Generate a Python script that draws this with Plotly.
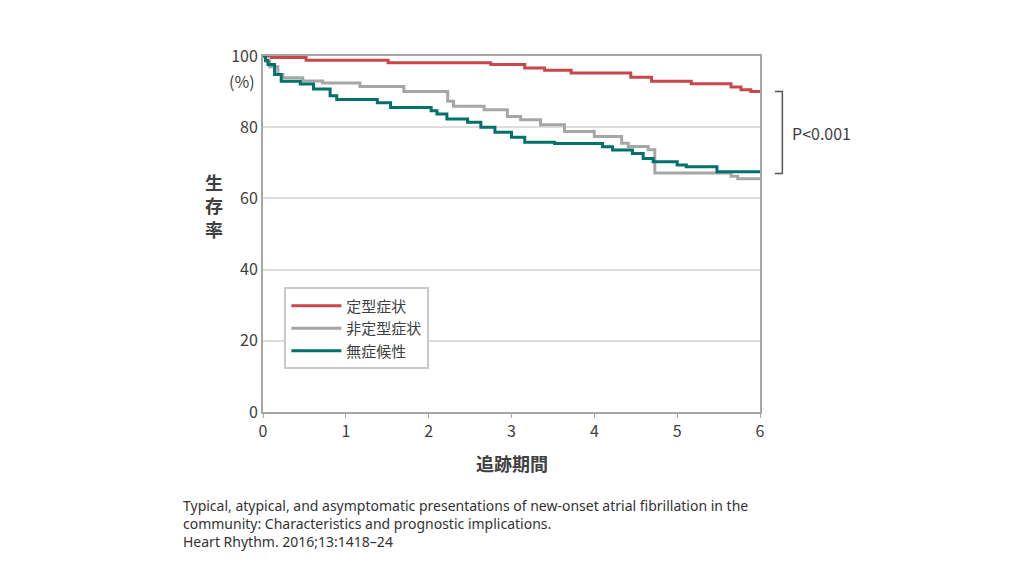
import plotly.graph_objects as go

# step points (years, survival %)
typ_x = [0, 0.1, 0.52, 1.51, 2.75, 3.16, 3.4, 3.72, 4.44, 4.69, 5.17, 5.65, 5.77, 5.89, 6]
typ_y = [100, 99.6, 98.8, 98.1, 97.6, 96.6, 96.0, 95.2, 94.0, 92.9, 92.2, 91.3, 90.5, 90.0, 90.0]

atyp_x = [0, 0.03, 0.08, 0.18, 0.24, 0.48, 0.72, 1.17, 1.7, 2.23, 2.3, 2.67, 2.95, 3.11, 3.35,
          3.64, 4.0, 4.33, 4.41, 4.65, 4.73, 5.65, 5.73, 6]
atyp_y = [100, 98.5, 97, 94.8, 93.9, 93.0, 92.4, 91.4, 90.0, 87.3, 85.9, 84.9, 83.0, 82.1, 80.7,
          78.8, 77.4, 75.5, 74.6, 73.7, 67.1, 66.2, 65.5, 65.5]

asym_x = [0, 0.03, 0.06, 0.14, 0.22, 0.45, 0.61, 0.81, 0.89, 1.38, 1.54, 2.03, 2.1, 2.22, 2.47,
          2.63, 2.8, 3.0, 3.16, 3.52, 4.1, 4.22, 4.46, 4.59, 4.71, 5.0, 5.11, 5.48, 6]
asym_y = [100, 98.8, 97.6, 94.8, 92.9, 92.1, 90.7, 88.8, 87.8, 86.9, 85.5, 84.6, 83.7, 82.3, 81.4,
          80.0, 78.6, 77.2, 75.8, 75.4, 74.5, 73.6, 72.6, 71.2, 70.3, 69.4, 68.9, 67.5, 67.5]

names = ["定型症状", "非定型症状", "無症候性"]
colors = ["#c9474b", "#a6a6a6", "#00716b"]

FONT = "Noto Sans CJK JP"
fig = go.Figure()
for xs, ys, nm, c in zip([typ_x, atyp_x, asym_x], [typ_y, atyp_y, asym_y], names, colors):
    fig.add_trace(go.Scatter(x=xs, y=ys, mode="lines", line_shape="hv",
                             line=dict(color=c, width=3), name=nm))

fig.update_layout(
    width=1024, height=576, paper_bgcolor="white", plot_bgcolor="white",
    margin=dict(l=255, r=272, t=48, b=172),
    font=dict(family=FONT, size=16, color="#404040"),
    showlegend=True,
    legend=dict(x=0.043, y=0.35, xanchor="left", yanchor="top",
                bordercolor="#c8c8c8", borderwidth=2, bgcolor="white",
                font=dict(size=15), tracegroupgap=4, itemwidth=50),
    xaxis=dict(range=[0, 6], tickvals=[0, 1, 2, 3, 4, 5, 6], showgrid=False, automargin=False,
               showline=True, linecolor="#a6a6a6", linewidth=2, mirror=True,
               ticks="outside", ticklen=4, tickcolor="#a6a6a6", zeroline=False),
    yaxis=dict(range=[0, 100], tickvals=[0, 20, 40, 60, 80, 100], showgrid=True, automargin=False,
               gridcolor="#dddddd", gridwidth=1.5, showline=True, linecolor="#a6a6a6",
               linewidth=2, mirror=True, zeroline=False),
)

ann = [
    dict(x=0, y=93, xref="x", yref="y", text="(%)", xanchor="right", xshift=-6),
    dict(x=6, y=-10, xref="x", yref="y", text="(年)", xanchor="center", font=dict(size=15)),
    dict(x=0.5, y=-0.1, xref="paper", yref="paper", text="<b>追跡期間</b>", yanchor="top",
         font=dict(size=18)),
    dict(x=-0.12, y=0.58, xref="paper", yref="paper", text="<b>生<br>存<br>率</b>",
         font=dict(size=18)),
    dict(x=1.06, y=78.5, xref="paper", yref="y", text="P<0.001", xanchor="left",
         font=dict(size=16)),
    dict(x=0, y=-0.23, xref="paper", yref="paper", xanchor="left", yanchor="top", xshift=-82,
         align="left", font=dict(family="Noto Sans", size=14, color="#333333"),
         text="Typical, atypical, and asymptomatic presentations of new-onset atrial fibrillation in the<br>"
              "community: Characteristics and prognostic implications.<br>"
              "Heart Rhythm. 2016;13:1418–24"),
]
for a in ann:
    a["showarrow"] = False
fig.update_layout(annotations=ann)

# bracket next to the P value
fig.add_shape(type="path", xref="paper", yref="y",
              path="M 1.03 90 L 1.045 90 L 1.045 67 L 1.03 67",
              line=dict(color="#555555", width=1.5))

fig.write_html("out.html")
